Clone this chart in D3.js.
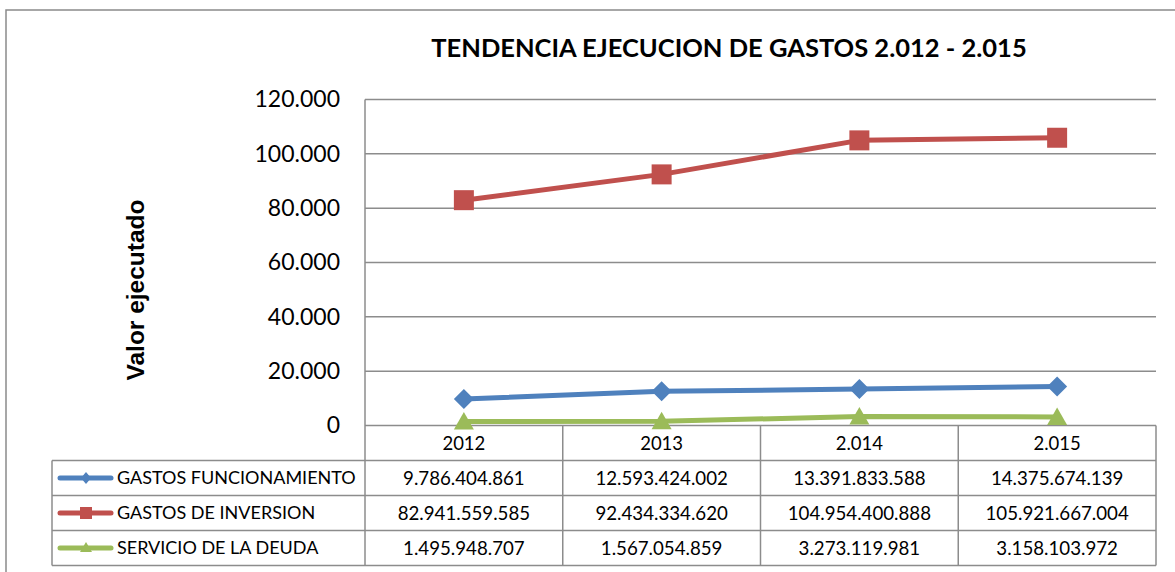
<!DOCTYPE html>
<html>
<head>
<meta charset="utf-8">
<script src="https://cdn.jsdelivr.net/npm/d3@7"></script>
<style>
  html, body { margin: 0; padding: 0; background: #fff; }
  svg { display: block; }
  text { font-family: Lato, "Open Sans", sans-serif; fill: #000; }
</style>
</head>
<body>
<svg id="chart" width="1175" height="572"></svg>
<script>
// Years shown as column headers
const years = ["2012", "2013", "2.014", "2.015"];
// Series names (legend column of the data table)
const seriesNames = ["GASTOS FUNCIONAMIENTO", "GASTOS DE INVERSION", "SERVICIO DE LA DEUDA"];
// Executed amounts, in pesos
const funcionamiento = [9786404861, 12593424002, 13391833588, 14375674139];
const inversion = [82941559585, 92434334620, 104954400888, 105921667004];
const deuda = [1495948707, 1567054859, 3273119981, 3158103972];
// Y axis ticks (millions of pesos)
const yTicks = [0, 20000, 40000, 60000, 80000, 100000, 120000];
const yTickLabels = ["0", "20.000", "40.000", "60.000", "80.000", "100.000", "120.000"];

const colors = ["#4F81BD", "#C0504D", "#9BBB59"];
const markers = ["diamond", "square", "triangle"];
const seriesValues = [funcionamiento, inversion, deuda];

const svg = d3.select("#chart");
const W = 1175, H = 572;

// Outer chart frame (top and left edges visible)
svg.append("path")
  .attr("d", `M6,${H + 2} L6,10 L${W + 2},10`)
  .attr("fill", "none").attr("stroke", "#8a8a8a").attr("stroke-width", 1.5);

const plot = { left: 365, right: 1156, top: 99.5, bottom: 425.5 };
const tableLeft = 52;
const rowH = 35;

const x = d3.scaleBand().domain(years).range([plot.left, plot.right]);
const y = d3.scaleLinear().domain([0, 120000]).range([plot.bottom, plot.top]);

// Title
svg.append("text")
  .attr("x", 729).attr("y", 57)
  .attr("text-anchor", "middle")
  .attr("font-size", 25.5).attr("font-weight", "bold")
  .text("TENDENCIA EJECUCION DE GASTOS 2.012 - 2.015");

// Y axis title
svg.append("text")
  .attr("transform", "translate(144,290) rotate(-90)")
  .attr("text-anchor", "middle")
  .style("font-family", "'Liberation Sans', Arial, sans-serif")
  .attr("font-size", 24.5).attr("font-weight", "bold")
  .text("Valor ejecutado");

// Horizontal gridlines
svg.append("g").selectAll("line").data(yTicks.filter(d => d > 0)).join("line")
  .attr("x1", plot.left).attr("x2", plot.right)
  .attr("y1", d => y(d)).attr("y2", d => y(d))
  .attr("stroke", "#8c8c8c").attr("stroke-width", 1.5);

// Y axis tick labels
const yAxis = d3.axisLeft(y).tickValues(yTicks)
  .tickFormat((d, i) => yTickLabels[i]).tickSize(0).tickPadding(25);
const gy = svg.append("g").attr("transform", `translate(${plot.left},0)`).call(yAxis);
gy.select(".domain").remove();
gy.selectAll("text").attr("font-size", 23).style("font-family", "Lato, sans-serif").attr("fill", "#000");

// Data table grid
const tableBottom = plot.bottom + rowH * 4;
const grid = svg.append("g").attr("stroke", "#8c8c8c").attr("stroke-width", 1.5).attr("fill", "none");
// vertical axis line and column separators
grid.append("line").attr("x1", plot.left).attr("x2", plot.left).attr("y1", plot.top).attr("y2", tableBottom);
years.forEach(yr => {
  const xr = x(yr) + x.bandwidth();
  grid.append("line").attr("x1", xr).attr("x2", xr).attr("y1", plot.bottom).attr("y2", tableBottom);
});
grid.append("line").attr("x1", tableLeft).attr("x2", tableLeft).attr("y1", plot.bottom + rowH).attr("y2", tableBottom);
// horizontal row lines
grid.append("line").attr("x1", plot.left).attr("x2", plot.right).attr("y1", plot.bottom).attr("y2", plot.bottom);
for (let r = 1; r <= 4; r++) {
  const yy = plot.bottom + rowH * r;
  grid.append("line").attr("x1", tableLeft).attr("x2", plot.right).attr("y1", yy).attr("y2", yy);
}

// Year headers
svg.append("g").selectAll("text").data(years).join("text")
  .attr("x", d => x(d) + x.bandwidth() / 2)
  .attr("y", plot.bottom + rowH / 2)
  .attr("dy", "0.36em")
  .attr("text-anchor", "middle").attr("font-size", 18.5)
  .text(d => d);

const fmt = v => d3.format(",")(v).replace(/,/g, ".");

// Marker shapes
const markerShapes = {
  diamond: "M0,-10L10,0L0,10L-10,0Z",
  square: "M-10,-10H10V10H-10Z",
  triangle: "M0,-9.5L10,8L-10,8Z"
};
const legendShapes = {
  diamond: "M0,-6L5,0L0,6L-5,0Z",
  square: "M-6,-6H6V6H-6Z",
  triangle: "M0,-6L6,4L-6,4Z"
};

const line = d3.line()
  .x((d, i) => x(years[i]) + x.bandwidth() / 2)
  .y(d => y(d / 1e6));

// Series lines, markers, table rows
seriesValues.forEach((vals, s) => {
  const g = svg.append("g");
  g.append("path").datum(vals).attr("d", line)
    .attr("fill", "none").attr("stroke", colors[s]).attr("stroke-width", 5)
    .attr("stroke-linejoin", "round");
  g.selectAll("path.mk").data(vals).join("path").attr("class", "mk")
    .attr("d", markerShapes[markers[s]])
    .attr("transform", (v, i) => `translate(${x(years[i]) + x.bandwidth() / 2},${y(v / 1e6)})`)
    .attr("fill", colors[s]);

  const rowMid = plot.bottom + rowH * (s + 1) + rowH / 2;
  // legend key
  g.append("line").attr("x1", 60).attr("x2", 111).attr("y1", rowMid).attr("y2", rowMid)
    .attr("stroke", colors[s]).attr("stroke-width", 5).attr("stroke-linecap", "round");
  g.append("path").attr("d", legendShapes[markers[s]])
    .attr("transform", `translate(86,${rowMid})`).attr("fill", colors[s]);

  svg.append("text").attr("x", 117).attr("y", rowMid).attr("dy", "0.36em")
    .attr("font-size", 18).text(seriesNames[s]);

  svg.append("g").selectAll("text").data(vals).join("text")
    .attr("x", (d, i) => x(years[i]) + x.bandwidth() / 2)
    .attr("y", rowMid).attr("dy", "0.36em")
    .attr("text-anchor", "middle").attr("font-size", 18.7)
    .text(d => fmt(d));
});
</script>
</body>
</html>
